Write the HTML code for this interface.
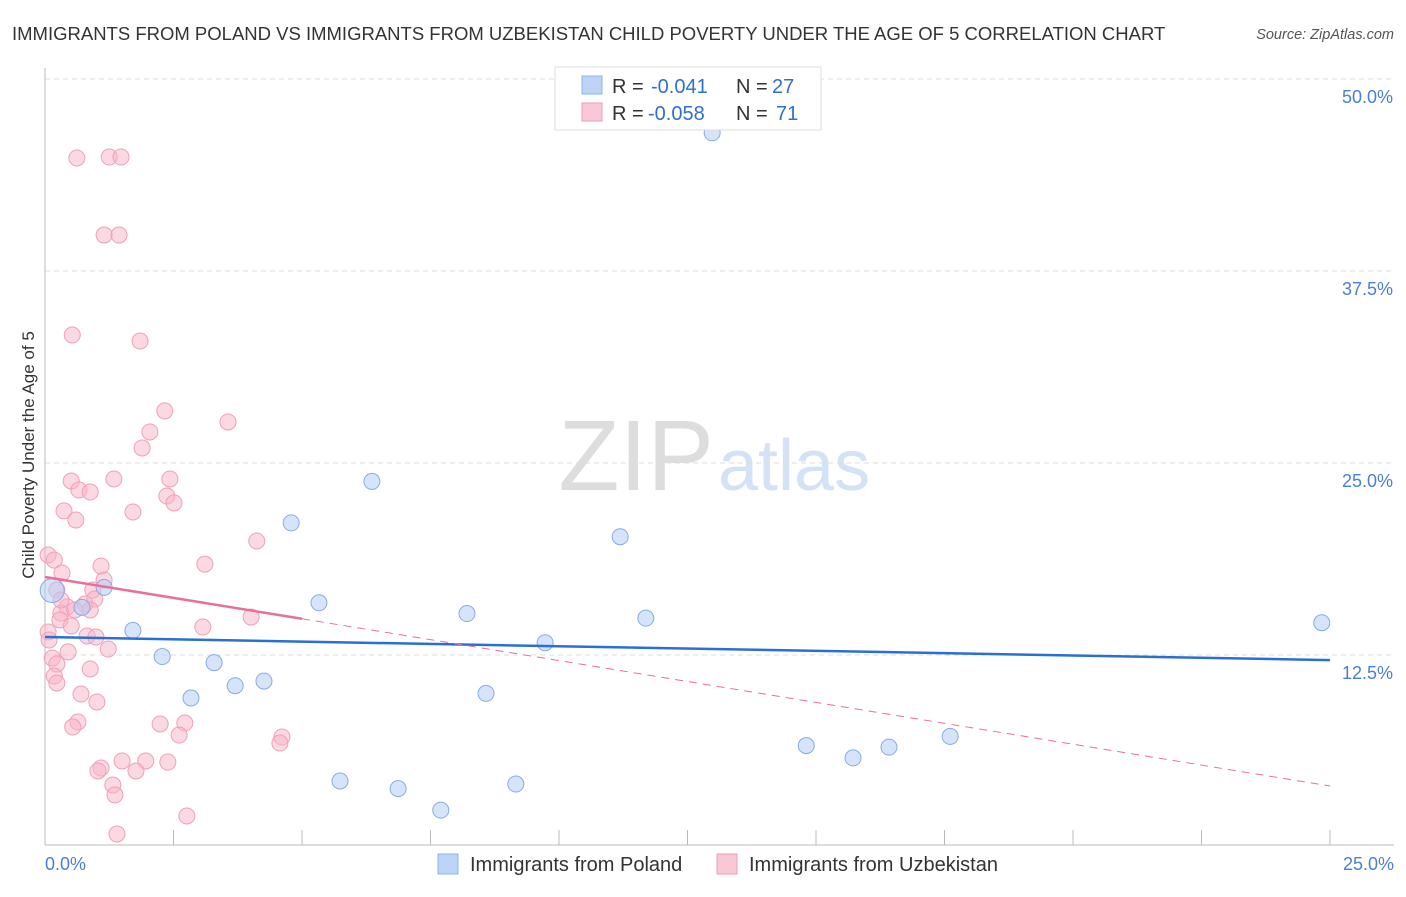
<!DOCTYPE html>
<html><head><meta charset="utf-8"><style>
body{margin:0;background:#fff;font-family:"Liberation Sans",sans-serif;}
svg text{font-family:"Liberation Sans",sans-serif;}
</style></head><body>
<svg id="chart" width="1406" height="892">
<text x="12" y="40" font-size="18.5" fill="#333">IMMIGRANTS FROM POLAND VS IMMIGRANTS FROM UZBEKISTAN CHILD POVERTY UNDER THE AGE OF 5 CORRELATION CHART</text>
<text x="1394" y="39" font-size="14.5" fill="#555" text-anchor="end" font-style="italic">Source: ZipAtlas.com</text>
<text x="714" y="490" font-size="100" fill="#ddd" text-anchor="end" font-family="Liberation Serif">ZIP</text>
<text x="718" y="490" font-size="72" fill="#d4e2f5">atlas</text>
<g id="grid"></g><g id="axes"></g><g id="pts"></g><g id="trends"></g>
<text transform="translate(34,455) rotate(-90)" font-size="17" fill="#333" text-anchor="middle">Child Poverty Under the Age of 5</text>
<g>
<rect x="555" y="67" width="266" height="63" fill="#fff" stroke="#ddd"/>
<rect x="582" y="76" width="20" height="18" fill="#bcd4f6" stroke="#8fb3e8"/>
<rect x="582" y="103" width="20" height="18" fill="#f9c8d6" stroke="#f09bb5"/>
<text x="612" y="93" font-size="20" fill="#333">R =<tspan x="651" fill="#2f6fd0">-0.041</tspan><tspan x="736" fill="#333">N =</tspan><tspan x="772" fill="#2f6fd0">27</tspan></text>
<text x="612" y="120" font-size="20" fill="#333">R =<tspan x="648" fill="#2f6fd0">-0.058</tspan><tspan x="736" fill="#333">N =</tspan><tspan x="776" fill="#2f6fd0">71</tspan></text>
</g>
<g>
<rect x="438" y="854" width="20" height="20" fill="#bcd4f6" stroke="#8fb3e8"/>
<text x="470" y="871" font-size="20" fill="#333">Immigrants from Poland</text>
<rect x="717" y="854" width="20" height="20" fill="#f9c8d6" stroke="#f09bb5"/>
<text x="749" y="871" font-size="20" fill="#333">Immigrants from Uzbekistan</text>
</g>
</svg>
<script>
const yTicks=[12.5,25,37.5,50];
const yTickLabels=["12.5%","25.0%","37.5%","50.0%"];
const xTickLabels=["0.0%","25.0%"];
const polandX=[0.14,1.15,0.72,1.71,2.28,3.29,2.84,3.70,4.26,4.79,5.33,6.36,5.74,6.87,7.70,8.21,8.58,9.16,9.73,11.19,11.69,12.98,14.81,15.72,16.42,17.61,24.84];
const polandY=[16.7,16.9,15.6,14.1,12.4,12.0,9.7,10.5,10.8,21.1,15.9,23.8,4.3,3.8,2.4,15.2,10.0,4.1,13.3,20.2,14.9,46.5,6.6,5.8,6.5,7.2,14.6];
const uzX=[0.62,1.25,1.48,1.15,1.44,0.53,1.85,2.33,3.56,2.04,1.89,0.51,1.34,2.43,0.66,0.88,2.37,2.51,0.37,1.71,0.60,4.12,0.06,0.18,1.09,3.11,0.33,1.15,0.23,0.93,0.78,0.97,0.43,0.31,4.01,0.29,0.51,0.06,0.82,0.99,3.07,1.23,0.45,0.14,0.23,0.88,0.18,0.23,0.70,1.01,0.64,0.54,2.24,2.72,2.61,4.61,4.57,1.50,1.96,2.39,1.09,1.03,1.77,1.32,1.36,2.76,1.40,0.31,0.08,0.58,0.88];
const uzY=[44.86,44.92,44.92,39.84,39.84,33.33,32.94,28.39,27.67,27.02,25.98,23.83,23.96,23.96,23.24,23.11,22.85,22.40,21.88,21.81,21.29,19.92,19.01,18.68,18.29,18.42,17.84,17.38,16.73,16.73,15.82,16.15,15.63,15.23,14.97,14.78,14.39,14.00,13.74,13.67,14.32,12.89,12.70,12.30,11.91,11.59,11.13,10.68,9.96,9.44,8.14,7.81,8.01,8.07,7.29,7.16,6.77,5.60,5.60,5.53,5.14,4.95,4.95,4.04,3.39,2.02,0.85,16.08,13.48,15.43,15.43];
const polandTrend=[13.67,12.17];
const uzTrend=[17.58,3.97];
const uzSolidEnd=5;
const NS='http://www.w3.org/2000/svg';
const X=v=>45+v*51.4, Y=v=>847-v*15.36;
function mk(parent,tag,attrs){const e=document.createElementNS(NS,tag);for(const k in attrs)e.setAttribute(k,attrs[k]);document.getElementById(parent).appendChild(e);return e;}
yTicks.forEach((t,i)=>{
 const l=mk('grid','line',{x1:45,x2:1394,y1:Y(t),y2:Y(t),stroke:'#ddd','stroke-dasharray':'5,4'});
 
 
 const tx=mk('grid','text',{x:1393,y:Y(t)+24,'font-size':18,fill:'#4a7fd4','text-anchor':'end'});
 tx.textContent=yTickLabels[i];
 
 
});
const ax=mk('axes','line',{x1:45,x2:1394,y1:845,y2:845,stroke:'#bbb'});


const ay=mk('axes','line',{x1:45,x2:45,y1:68,y2:845,stroke:'#bbb'});


for(let i=1;i<=10;i++){
 const t=mk('axes','line',{x1:X(i*2.5),x2:X(i*2.5),y1:830,y2:845,stroke:'#bbb'});
 
 
}
[[0,'start',45],[25,'end',1394]].forEach((d,i)=>{
 const t=mk('axes','text',{x:d[2],y:870,'font-size':18,fill:'#4a7fd4','text-anchor':d[1]});
 t.textContent=xTickLabels[i];
 
 
});
uzX.forEach((x,i)=>{
 const c=mk('pts','circle',{cx:X(x),cy:Y(uzY[i]),r:8,fill:'rgba(247,180,200,0.5)',stroke:'#f0a0b8','stroke-width':1});
 
 
});
polandX.forEach((x,i)=>{
 const c=mk('pts','circle',{cx:X(x),cy:Y(polandY[i]),r:i==0?12:8,fill:'rgba(180,205,245,0.55)',stroke:'#86ace6','stroke-width':1});
 
 
});
const pt=mk('trends','line',{x1:X(0),y1:Y(polandTrend[0]),x2:X(25),y2:Y(polandTrend[1]),stroke:'#2a6fd6','stroke-width':2.5});


const midY=uzTrend[0]+(uzTrend[1]-uzTrend[0])*uzSolidEnd/25;
const us=mk('trends','line',{x1:X(0),y1:Y(uzTrend[0]),x2:X(uzSolidEnd),y2:Y(midY),stroke:'#e8709a','stroke-width':2.5});


const ud=mk('trends','line',{x1:X(uzSolidEnd),y1:Y(midY),x2:X(25),y2:Y(uzTrend[1]),stroke:'#e8709a','stroke-width':1,'stroke-dasharray':'8,6'});


</script>
</body></html>
